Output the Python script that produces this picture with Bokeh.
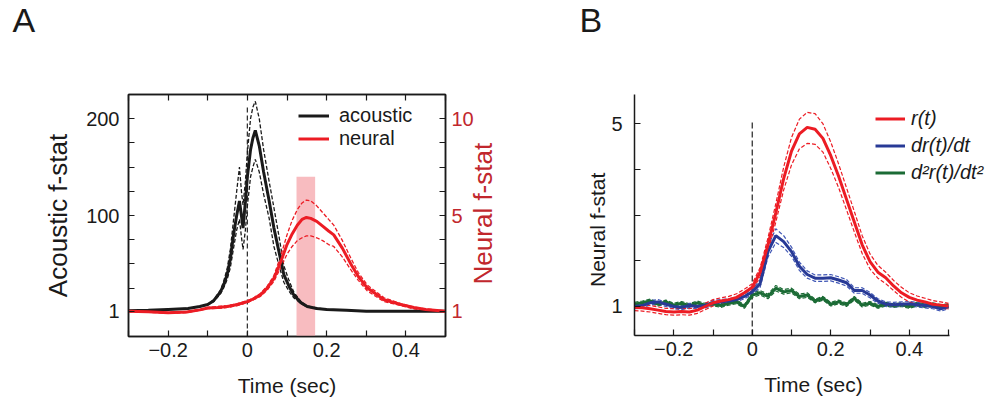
import math
from bokeh.plotting import figure
from bokeh.models import Range1d, FixedTicker, LinearAxis, Legend, LegendItem
from bokeh.layouts import row
from bokeh.embed import file_html
from bokeh.resources import INLINE

FONT = "Liberation Sans"
INK = "#1a1a1a"
RED = "#ec1c24"
CRIMSON = "#c1272d"
PINK = "#f8bcc0"
BLUE = "#283a96"
BLUE_D = "#3f56b5"
GREEN = "#1b6b35"

# ---------------- Panel A data ----------------
t_ac = [-0.3, -0.25, -0.2, -0.15, -0.12, -0.1, -0.085, -0.068, -0.06, -0.051, -0.043, -0.035, -0.027,
        -0.02, -0.015, -0.011, -0.005, 0.0, 0.008, 0.014, 0.02, 0.03, 0.041, 0.055, 0.067, 0.08, 0.092,
        0.105, 0.117, 0.135, 0.151, 0.175, 0.2, 0.25, 0.3, 0.35, 0.4, 0.45, 0.5]
acoustic = [1.5, 2, 3, 4, 6, 8, 12, 21, 28, 39, 55, 80, 100, 115, 100, 87, 114, 140, 168, 180, 188, 172, 145,
            115, 87, 62, 39, 27, 18, 10, 6, 4, 3, 2, 1, 1, 1, 1, 1]
acoustic_hi = [1.5, 2, 3, 4, 6, 8, 13, 23, 32, 45, 65, 95, 125, 150, 125, 111, 135, 165, 200, 212, 218, 200,
               168, 135, 108, 78, 48, 33, 21, 11, 6.5, 4.5, 3, 2, 1, 1, 1, 1, 1]
acoustic_lo = [1.5, 2, 3, 4, 6, 8, 11, 19, 25, 34, 46, 66, 85, 96, 78, 65, 85, 110, 140, 150, 158, 145, 122,
               97, 68, 48, 31, 22, 15, 9, 5.5, 3.5, 3, 2, 1, 1, 1, 1, 1]

t_ne = [-0.3, -0.25, -0.2, -0.153, -0.12, -0.1, -0.075, -0.05, -0.025, 0.0, 0.016, 0.033, 0.05, 0.067, 0.084,
        0.1, 0.113, 0.126, 0.138, 0.149, 0.16, 0.175, 0.19, 0.205, 0.218, 0.24, 0.261, 0.28, 0.303, 0.345,
        0.387, 0.42, 0.45, 0.5]
neural = [1, 0.5, -0.5, 0.3, 2.5, 4.4, 5, 6, 8, 11, 14, 18, 25, 35, 52, 70, 81, 90, 96, 98, 97, 94, 89, 84, 80,
          66, 50, 37, 25, 13, 8, 5, 3, 1]
neural_hi = [1.5, 1, 0, 1, 3, 5, 6, 7, 9, 12, 15, 19.5, 27, 38, 58, 80, 95, 106, 113, 116, 115, 110, 103, 96,
             90, 74, 56, 41, 28, 15, 9, 5.5, 3.5, 1.5]
neural_lo = [0.5, 0, -1, -0.4, 2, 3.8, 4, 5, 7, 10, 13, 16.5, 23, 32, 46, 60, 68, 74, 77, 79, 79, 77, 74, 70,
             68, 57, 44, 33, 22, 11, 7, 3.5, 2, 0.5]

window_t = [0.124, 0.171]     # shaded analysis window (sec)
window_top = 140

a_xticks = [-0.2, 0, 0.2, 0.4]
a_xminor = [-0.3, -0.1, 0.1, 0.3, 0.5]
a_yticks = [1, 100, 200]
a_yminor = [25, 50, 75, 125, 150, 175]
a_left_labels = {1: "1", 100: "100", 200: "200"}
a_right_labels = {1: "1", 100: "5", 200: "10"}
a_right_title_at = 28.8   # start of the rotated right-hand title, in left-axis units

# ---------------- Panel B data ----------------
t_b = [-0.30, -0.28, -0.26, -0.24, -0.22, -0.20, -0.18, -0.16, -0.14, -0.12, -0.10, -0.08, -0.06, -0.04,
       -0.02, 0.00, 0.02, 0.04, 0.06, 0.08, 0.10, 0.12, 0.14, 0.16, 0.18, 0.20, 0.22, 0.24, 0.26, 0.28, 0.30,
       0.32, 0.34, 0.36, 0.38, 0.40, 0.42, 0.44, 0.46, 0.48, 0.50]
r_t = [0.98, 0.97, 0.95, 0.92, 0.89, 0.88, 0.89, 0.88, 0.92, 1.0, 1.08, 1.12, 1.15, 1.2, 1.3, 1.42, 1.75, 2.35,
       3.05, 3.8, 4.4, 4.78, 4.92, 4.88, 4.68, 4.3, 3.85, 3.35, 2.85, 2.35, 1.98, 1.75, 1.63, 1.45, 1.3, 1.2,
       1.14, 1.1, 1.05, 1.03, 1.01]
r_hi = [1.05, 1.04, 1.02, 0.99, 0.96, 0.95, 0.96, 0.95, 0.99, 1.07, 1.15, 1.19, 1.22, 1.28, 1.38, 1.5, 1.85,
        2.5, 3.25, 4.05, 4.7, 5.1, 5.25, 5.22, 5.0, 4.6, 4.12, 3.6, 3.08, 2.55, 2.15, 1.9, 1.75, 1.57, 1.42,
        1.3, 1.23, 1.18, 1.13, 1.1, 1.07]
r_lo = [0.91, 0.9, 0.88, 0.85, 0.82, 0.81, 0.82, 0.81, 0.85, 0.93, 1.01, 1.05, 1.08, 1.12, 1.22, 1.35, 1.65,
        2.2, 2.85, 3.55, 4.1, 4.45, 4.57, 4.55, 4.38, 4.02, 3.6, 3.12, 2.63, 2.16, 1.82, 1.62, 1.5, 1.35, 1.2,
        1.1, 1.05, 1.02, 0.98, 0.96, 0.95]
dr_dt = [1.0, 1.02, 1.08, 1.1, 1.05, 1.0, 0.98, 1.02, 1.0, 1.02, 1.08, 1.1, 1.12, 1.15, 1.22, 1.32, 1.5, 2.2,
         2.55, 2.42, 2.2, 1.88, 1.7, 1.62, 1.62, 1.63, 1.58, 1.52, 1.35, 1.35, 1.25, 1.12, 1.05, 1.04, 1.05,
         1.06, 1.04, 1.02, 1.0, 0.95, 1.0]
dr_sem = [0.05, 0.05, 0.05, 0.05, 0.05, 0.05, 0.05, 0.05, 0.05, 0.05, 0.05, 0.05, 0.05, 0.05, 0.05, 0.06,
          0.08, 0.12, 0.15, 0.13, 0.1, 0.09, 0.08, 0.07, 0.07, 0.07, 0.07, 0.07, 0.06, 0.06, 0.06, 0.05, 0.05,
          0.05, 0.05, 0.05, 0.05, 0.05, 0.05, 0.05, 0.05]
d2r_dt2 = [1.05, 1.08, 1.12, 1.05, 1.1, 1.03, 1.07, 1.02, 1.08, 1.03, 1.06, 1.02, 1.07, 1.1, 1.0, 1.25, 1.3,
           1.22, 1.4, 1.32, 1.35, 1.22, 1.25, 1.12, 1.18, 1.05, 1.1, 1.04, 1.18, 1.03, 1.07, 1.0, 1.05, 1.02,
           1.04, 1.0, 1.05, 1.02, 1.04, 1.0, 1.02]
d2r_sem = [0.04, 0.04, 0.04, 0.04, 0.04, 0.04, 0.04, 0.04, 0.04, 0.04, 0.04, 0.04, 0.04, 0.04, 0.04, 0.05,
           0.05, 0.05, 0.06, 0.05, 0.05, 0.05, 0.05, 0.04, 0.04, 0.04, 0.04, 0.04, 0.04, 0.04, 0.04, 0.04, 0.04,
           0.04, 0.04, 0.04, 0.04, 0.04, 0.04, 0.04, 0.04]
dr_hi = [v + s for v, s in zip(dr_dt, dr_sem)]
dr_lo = [v - s for v, s in zip(dr_dt, dr_sem)]
d2_hi = [v + s for v, s in zip(d2r_dt2, d2r_sem)]
d2_lo = [v - s for v, s in zip(d2r_dt2, d2r_sem)]

b_xticks = [-0.2, 0, 0.2, 0.4]
b_xminor = [-0.3, -0.1, 0.1, 0.3, 0.5]
b_yticks = [1, 5]
b_yminor = [2, 3, 4]
b_left_title_at = 3.93    # top end of the rotated left-hand title, in data units
onset_top = 5.07


def style_axis(ax, color=INK, label_size="20px", title_size="21px"):
    ax.axis_line_color = INK
    ax.axis_line_width = 1.5
    ax.major_tick_in = 6
    ax.major_tick_out = 0
    ax.minor_tick_in = 6
    ax.minor_tick_out = 0
    ax.major_tick_line_color = INK
    ax.minor_tick_line_color = INK
    ax.major_tick_line_width = 1.2
    ax.minor_tick_line_width = 1.2
    ax.major_label_text_font = FONT
    ax.major_label_text_font_size = label_size
    ax.major_label_text_color = color
    ax.major_label_standoff = 6
    ax.axis_label_text_font = FONT
    ax.axis_label_text_font_size = title_size
    ax.axis_label_text_font_style = "normal"
    ax.axis_label_text_color = color


def panel_title(p, letter, offset):
    p.title.text = letter + "\n "
    p.title.text_font = FONT
    p.title.text_font_size = "34px"
    p.title.text_font_style = "normal"
    p.title.text_color = INK
    p.title.text_line_height = 1.42
    p.title.align = "left"
    p.title.vertical_align = "top"
    p.title.offset = offset
    p.title.standoff = 0


# ---------------- Panel A ----------------
pA = figure(frame_width=317, frame_height=242, x_range=Range1d(-0.3, 0.5), y_range=Range1d(-25, 225),
            min_border_left=128, min_border_right=52, min_border_top=93, min_border_bottom=67,
            output_backend="svg", toolbar_location=None)
pA.grid.visible = False
pA.outline_line_color = INK
pA.outline_line_width = 1.5
panel_title(pA, "A", -116)

pA.xaxis.ticker = FixedTicker(ticks=a_xticks, minor_ticks=a_xminor)
pA.xaxis.major_label_overrides = {0: "0"}
pA.xaxis.axis_label = "Time (sec)"
style_axis(pA.xaxis[0])
pA.xaxis.axis_label_standoff = 14

pA.yaxis.ticker = FixedTicker(ticks=a_yticks, minor_ticks=a_yminor)
pA.yaxis.major_label_overrides = a_left_labels
pA.yaxis.axis_label = "Acoustic f-stat"
style_axis(pA.yaxis[0], title_size="26px")
pA.yaxis.major_label_standoff = 9
pA.yaxis.axis_label_standoff = 10

right = LinearAxis(ticker=FixedTicker(ticks=a_yticks, minor_ticks=a_yminor),
                   major_label_overrides=a_right_labels)
style_axis(right, color=CRIMSON)
right.major_label_standoff = 6
pA.add_layout(right, "right")

# label-only axis for the right-hand title, reading bottom-to-top
right_title = LinearAxis(ticker=FixedTicker(ticks=[a_right_title_at]),
                         major_label_overrides={a_right_title_at: "Neural f-stat"})
style_axis(right_title, color=CRIMSON, label_size="26px")
right_title.axis_line_color = None
right_title.major_tick_line_color = None
right_title.major_label_standoff = 7
right_title.major_label_orientation = math.pi / 2
pA.add_layout(right_title, "right")

top = LinearAxis(ticker=FixedTicker(ticks=[], minor_ticks=a_xticks + a_xminor))
style_axis(top)
pA.add_layout(top, "above")

pA.quad(left=[window_t[0]], right=[window_t[1]], bottom=[-25], top=[window_top],
        fill_color=PINK, line_color=None)
pA.segment(x0=[0], y0=[-25], x1=[0], y1=[214], line_color="#333333", line_width=1.3, line_dash="5 3")

for arr in (acoustic_hi, acoustic_lo):
    pA.line(t_ac, arr, line_color=INK, line_width=1.3, line_dash="4 2")
for arr in (neural_hi, neural_lo):
    pA.line(t_ne, arr, line_color=RED, line_width=1.3, line_dash="4 2")
rA1 = pA.line(t_ac, acoustic, line_color=INK, line_width=3)
rA2 = pA.line(t_ne, neural, line_color=RED, line_width=3)

legA = Legend(items=[LegendItem(label="acoustic", renderers=[rA1]),
                     LegendItem(label="neural", renderers=[rA2])],
              location=(170, 186), border_line_color=None, background_fill_alpha=0,
              padding=0, margin=0, spacing=0, glyph_width=31, glyph_height=21, label_height=21,
              label_standoff=10, label_text_font=FONT, label_text_font_size="20px",
              label_text_color=INK)
pA.add_layout(legA)

# ---------------- Panel B ----------------
pB = figure(frame_width=358, frame_height=241, x_range=Range1d(-0.3, 0.612), y_range=Range1d(0.365, 5.64),
            min_border_left=118, min_border_right=0, min_border_top=94, min_border_bottom=67,
            output_backend="svg", toolbar_location=None)
pB.grid.visible = False
pB.outline_line_color = None
panel_title(pB, "B", -55)

pB.xaxis.ticker = FixedTicker(ticks=b_xticks, minor_ticks=b_xminor)
pB.xaxis.major_label_overrides = {0: "0"}
pB.xaxis.axis_label = "Time (sec)"
pB.xaxis.bounds = (-0.3, 0.503)
style_axis(pB.xaxis[0])
pB.xaxis.axis_label_standoff = 14

pB.yaxis.ticker = FixedTicker(ticks=b_yticks, minor_ticks=b_yminor)
style_axis(pB.yaxis[0])
pB.yaxis.major_label_standoff = 12

left_title = LinearAxis(ticker=FixedTicker(ticks=[b_left_title_at]),
                        major_label_overrides={b_left_title_at: "Neural f-stat"})
style_axis(left_title, label_size="21px")
left_title.axis_line_color = None
left_title.major_tick_line_color = None
left_title.major_label_standoff = 11
left_title.major_label_orientation = math.pi / 2
pB.add_layout(left_title, "left")

pB.segment(x0=[0], y0=[0.365], x1=[0], y1=[onset_top], line_color="#333333", line_width=1.3,
           line_dash="6 3")

for arr in (d2_hi, d2_lo):
    pB.line(t_b, arr, line_color=GREEN, line_width=1.2, line_dash="4 2")
for arr in (dr_hi, dr_lo):
    pB.line(t_b, arr, line_color=BLUE_D, line_width=1.2, line_dash="4 2")
for arr in (r_hi, r_lo):
    pB.line(t_b, arr, line_color=RED, line_width=1.2, line_dash="4 2")
rB3 = pB.line(t_b, d2r_dt2, line_color=GREEN, line_width=3)
rB2 = pB.line(t_b, dr_dt, line_color=BLUE, line_width=3)
rB1 = pB.line(t_b, r_t, line_color=RED, line_width=3)

legB = Legend(items=[LegendItem(label="r(t)", renderers=[rB1]),
                     LegendItem(label="dr(t)/dt", renderers=[rB2]),
                     LegendItem(label="d²r(t)/dt²", renderers=[rB3])],
              location=(241, 149), border_line_color=None, background_fill_alpha=0,
              padding=0, margin=0, spacing=0, glyph_width=30, glyph_height=27, label_height=27,
              label_standoff=6, label_text_font=FONT, label_text_font_size="20px",
              label_text_font_style="italic", label_text_color=INK)
pB.add_layout(legB)

layout = row(pA, pB)
open("out.html", "w").write(file_html(layout, INLINE))
